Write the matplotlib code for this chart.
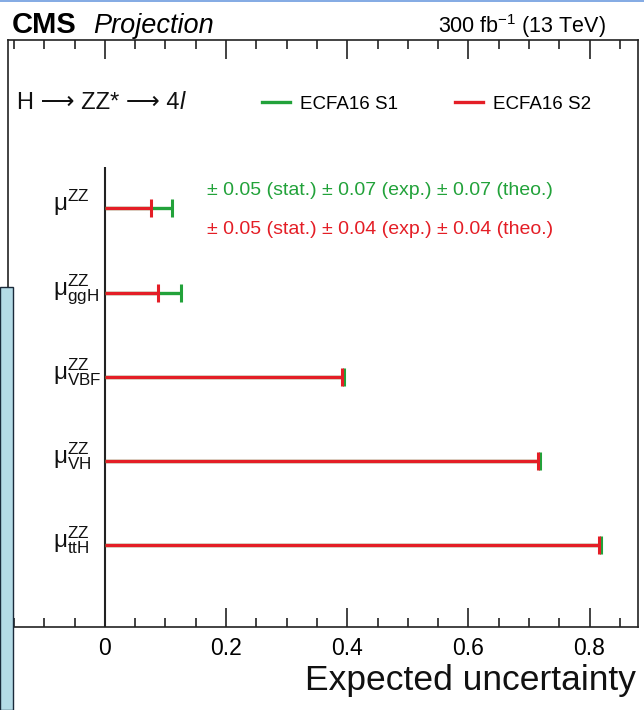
import matplotlib
matplotlib.use("Agg")
import matplotlib.pyplot as plt
from matplotlib.lines import Line2D
from matplotlib.patches import Rectangle

plt.rcParams['font.family'] = ['Liberation Sans', 'DejaVu Sans']
plt.rcParams['mathtext.fontset'] = 'custom'
plt.rcParams['mathtext.rm'] = 'Liberation Sans'
plt.rcParams['mathtext.it'] = 'Liberation Sans:italic'
plt.rcParams['mathtext.bf'] = 'Liberation Sans:bold'

# ---- data ----
categories = ['μ$^{\\mathrm{ZZ}}$', 'μ$^{\\mathrm{ZZ}}_{\\mathrm{ggH}}$', 'μ$^{\\mathrm{ZZ}}_{\\mathrm{VBF}}$',
              'μ$^{\\mathrm{ZZ}}_{\\mathrm{VH}}$', 'μ$^{\\mathrm{ZZ}}_{\\mathrm{ttH}}$']
s1_unc = [0.111, 0.125, 0.395, 0.718, 0.819]
s2_unc = [0.076, 0.088, 0.391, 0.715, 0.816]
series_labels = ['ECFA16 S1', 'ECFA16 S2']
s1_text = '± 0.05 (stat.) ± 0.07 (exp.) ± 0.07 (theo.)'
s2_text = '± 0.05 (stat.) ± 0.04 (exp.) ± 0.04 (theo.)'
xticks = [0, 0.2, 0.4, 0.6, 0.8]
xticklabels = ['0', '0.2', '0.4', '0.6', '0.8']

GREEN = '#22a23a'
RED = '#e41e26'

W, H = 644, 710
fig = plt.figure(figsize=(W / 100, H / 100), dpi=100)
ax = fig.add_axes([8 / W, 1 - 627 / H, (638 - 8) / W, (627 - 40) / H])

ypos = [5 - i for i in range(len(categories))]

ax.set_xlim(-0.16, 0.88)
ax.set_ylim(0.03, 7.0)

# zero line
ax.vlines(0, 0.03, 5.49, color='#222222', lw=1.5, zorder=2)

for vals, col in ((s1_unc, GREEN), (s2_unc, RED)):
    ax.hlines(ypos, 0, vals, color=col, lw=2.4, zorder=3)
    ax.plot(vals, ypos, linestyle='none', marker='|', ms=12.5, mew=2.2, color=col, zorder=3)

for lab, y in zip(categories, ypos):
    ax.text(-0.086, y - 0.03, lab, fontsize=17.5, ha='left', va='baseline', color='#111111')

ax.text(0.168, 5.21, s1_text, color=GREEN, fontsize=14, ha='left', va='center')
ax.text(0.168, 4.75, s2_text, color=RED, fontsize=14, ha='left', va='center')

proc = ax.text(-0.145, 6.25, 'H ⟶ ZZ* ⟶ 4', fontsize=17, ha='left', va='center',
               color='#111111', family=['Liberation Sans', 'DejaVu Sans'])
ax.annotate('l', xy=(1, 0), xycoords=proc, ha='left', va='bottom', fontsize=17,
            fontstyle='italic', color='#111111')

leg_x = [262, 455]
for i, (lab, col) in enumerate(zip(series_labels, (GREEN, RED))):
    lg = ax.legend([Line2D([], [], color=col, lw=2.4)], [lab], frameon=False, fontsize=13.5,
                   loc='center left', bbox_to_anchor=((leg_x[i] - 8) / 630, (627 - 104) / 587),
                   handlelength=1.5, handletextpad=0.55, borderaxespad=0, borderpad=0)
    if i == 0:
        ax.add_artist(lg)

ax.set_xticks(xticks)
ax.set_xticklabels(xticklabels)
ax.set_xticks([x / 100 for x in range(-15, 90, 5) if x % 20 != 0], minor=True)
ax.set_yticks([])
ax.tick_params(axis='x', which='major', direction='in', length=14, width=1.2, top=True, bottom=True,
               labelsize=16.5, pad=7, color='#222222')
ax.tick_params(axis='x', which='minor', direction='in', length=6.5, width=1.2, top=True, bottom=True,
               color='#222222')
for sp in ax.spines.values():
    sp.set_linewidth(1.2)
    sp.set_color('#222222')

# header texts
fig.text(12 / W, 1 - 33 / H, 'CMS', fontsize=21, fontweight='bold', ha='left', va='baseline')
fig.text(93 / W, 1 - 33 / H, 'Projection', fontsize=19.5, fontstyle='italic', ha='left', va='baseline')
fig.text(606 / W, 1 - 33 / H, '300 fb$^{\\mathrm{-1}}$ (13 TeV)', fontsize=15.5, ha='right', va='baseline')
fig.text(636 / W, 1 - 690 / H, 'Expected uncertainty', fontsize=25.5, ha='right', va='baseline',
         color='#111111')

# slide artifacts: top blue line and left light-blue panel
fig.patches.append(Rectangle((0, 1 - 2 / H), 1, 2 / H, transform=fig.transFigure,
                             facecolor='#86acE4', edgecolor='none', zorder=5))
fig.patches.append(Rectangle((0, 0), 13 / W, 1 - 287 / H, transform=fig.transFigure,
                             facecolor='#b4dbe6', edgecolor='#1a2a3a', lw=1.0, zorder=5))

fig.savefig('out.png', dpi=100)
